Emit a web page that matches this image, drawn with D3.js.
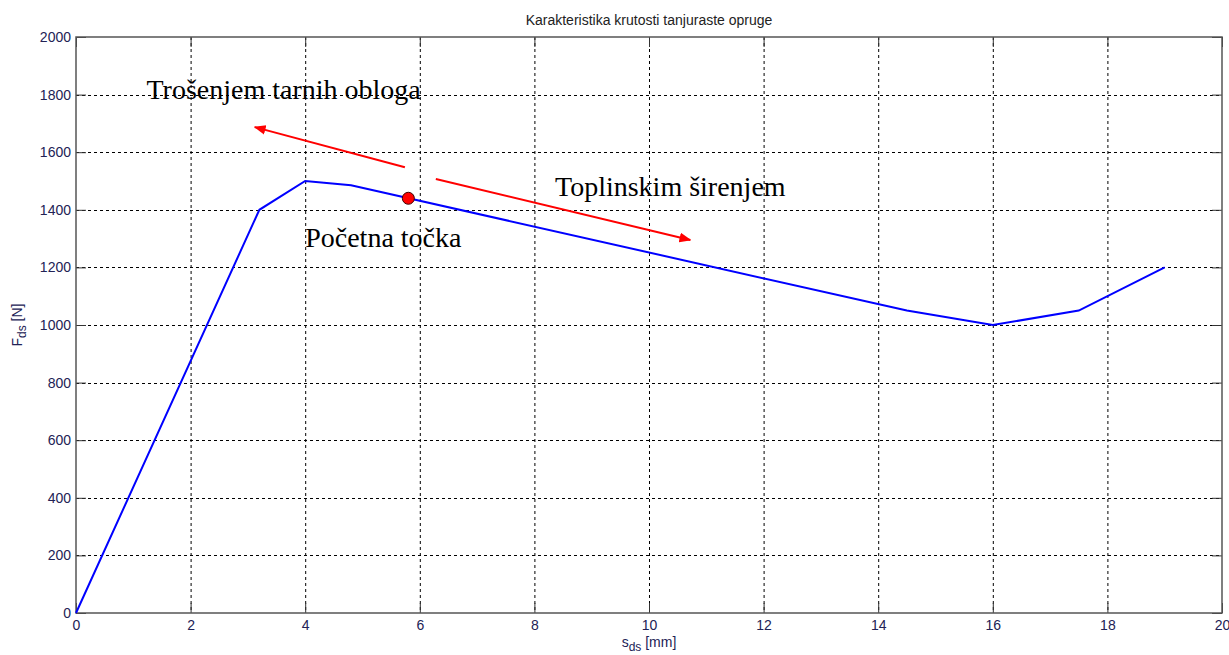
<!DOCTYPE html>
<html><head><meta charset="utf-8">
<script src="https://cdn.jsdelivr.net/npm/d3@7"></script>
<style>body{margin:0;background:#fff;}svg{display:block;}</style>
</head><body>
<svg id="c" width="1229" height="655"></svg>
<script>
const xTicks = [0,2,4,6,8,10,12,14,16,18,20];
const yTicks = [0,200,400,600,800,1000,1200,1400,1600,1800,2000];
const sValues = [0, 3.2, 4, 4.8, 14.5, 16, 17.5, 19];
const fValues = [0, 1400, 1500, 1485, 1050, 1000, 1050, 1200];
const startPoint = [5.8, 1440];
const arrowWear = [[5.74, 1548], [3.12, 1687]];
const arrowHeat = [[6.28, 1507], [10.72, 1295]];
const labels = [
  {text: "Trošenjem tarnih obloga", s: 1.23, f: 1785},
  {text: "Toplinskim širenjem", s: 8.36, f: 1448},
  {text: "Početna točka", s: 4.0, f: 1271}
];
const title = "Karakteristika krutosti tanjuraste opruge";

const svg = d3.select("#c");
const L = 76, R = 1222, T = 37, B = 613;
const x = d3.scaleLinear().domain([0,20]).range([L,R]);
const y = d3.scaleLinear().domain([0,2000]).range([B,T]);

// grid
const g = svg.append("g");
g.selectAll(".gx").data(xTicks.slice(1,-1)).join("line")
  .attr("x1", d=>x(d)+0.5).attr("x2", d=>x(d)+0.5).attr("y1", T).attr("y2", B)
  .attr("stroke", "#000").attr("stroke-width", 1).attr("stroke-dasharray", "3,3");
g.selectAll(".gy").data(yTicks.slice(1,-1)).join("line")
  .attr("y1", d=>Math.round(y(d))+0.5).attr("y2", d=>Math.round(y(d))+0.5).attr("x1", L).attr("x2", R)
  .attr("stroke", "#000").attr("stroke-width", 1).attr("stroke-dasharray", "3,3");

// axes
const tickCol = "#222255";
const fmt = d3.format("d");
const xa = svg.append("g").attr("transform", `translate(0,${B})`)
  .call(d3.axisBottom(x).tickValues(xTicks).tickFormat(fmt).tickSizeInner(-10).tickSizeOuter(0).tickPadding(7));
const ya = svg.append("g").attr("transform", `translate(${L},0)`)
  .call(d3.axisLeft(y).tickValues(yTicks).tickFormat(fmt).tickSizeInner(-10).tickSizeOuter(0).tickPadding(5));
const xt = svg.append("g").attr("transform", `translate(0,${T})`)
  .call(d3.axisTop(x).tickValues(xTicks).tickSizeInner(-10).tickSizeOuter(0).tickFormat(""));
const yr = svg.append("g").attr("transform", `translate(${R},0)`)
  .call(d3.axisRight(y).tickValues(yTicks).tickSizeInner(-10).tickSizeOuter(0).tickFormat(""));
[xa,ya,xt,yr].forEach(a=>{
  a.select(".domain").remove();
  a.selectAll("line").attr("stroke", "#333");
  a.selectAll("text").attr("fill", tickCol).style("font-family","Arial, 'Liberation Sans', sans-serif").style("font-size","14px");
});
svg.append("rect").attr("x", L).attr("y", T).attr("width", R-L).attr("height", B-T)
  .attr("fill","none").attr("stroke","#555").attr("stroke-width",1.5);

// line
const line = d3.line().x((d,i)=>x(sValues[i])).y((d,i)=>y(fValues[i]));
svg.append("path").datum(sValues).attr("d", line).attr("fill","none")
  .attr("stroke","#0000ff").attr("stroke-width",2);

// arrows
const defs = svg.append("defs");
defs.append("marker").attr("id","ah").attr("viewBox","0 0 10 10").attr("refX",9).attr("refY",5)
  .attr("markerWidth",6).attr("markerHeight",6).attr("orient","auto")
  .append("path").attr("d","M0,1 L10,5 L0,9 z").attr("fill","#ff0000");
[arrowWear, arrowHeat].forEach(a=>{
  svg.append("line").attr("x1", x(a[0][0])).attr("y1", y(a[0][1]))
    .attr("x2", x(a[1][0])).attr("y2", y(a[1][1]))
    .attr("stroke","#ff0000").attr("stroke-width",2).attr("marker-end","url(#ah)");
});

// start point
svg.append("circle").attr("cx", x(startPoint[0])).attr("cy", y(startPoint[1])).attr("r", 6)
  .attr("fill","#ff0000").attr("stroke","#400000").attr("stroke-width",1);

// annotation labels
svg.selectAll(".lab").data(labels).join("text")
  .attr("x", d=>x(d.s)).attr("y", d=>y(d.f))
  .text(d=>d.text)
  .style("font-family","'Liberation Serif', 'Times New Roman', serif").style("font-size","28px").attr("fill","#000");

// title
svg.append("text").attr("x", (L+R)/2).attr("y", 25).attr("text-anchor","middle")
  .style("font-family","Arial, 'Liberation Sans', sans-serif").style("font-size","14px").attr("fill","#222")
  .text(title);

// x label
const xl = svg.append("text").attr("x", (L+R)/2).attr("y", 647).attr("text-anchor","middle")
  .style("font-family","Arial, 'Liberation Sans', sans-serif").style("font-size","14px").attr("fill",tickCol);
xl.append("tspan").text("s");
xl.append("tspan").attr("dy",4).style("font-size","12px").text("ds");
xl.append("tspan").attr("dy",-4).text(" [mm]");

// y label
const yl = svg.append("text").attr("transform", "translate(22,325) rotate(-90)").attr("text-anchor","middle")
  .style("font-family","Arial, 'Liberation Sans', sans-serif").style("font-size","14px").attr("fill",tickCol);
yl.append("tspan").text("F");
yl.append("tspan").attr("dy",4).style("font-size","12px").text("ds");
yl.append("tspan").attr("dy",-4).text(" [N]");
</script>
</body></html>
